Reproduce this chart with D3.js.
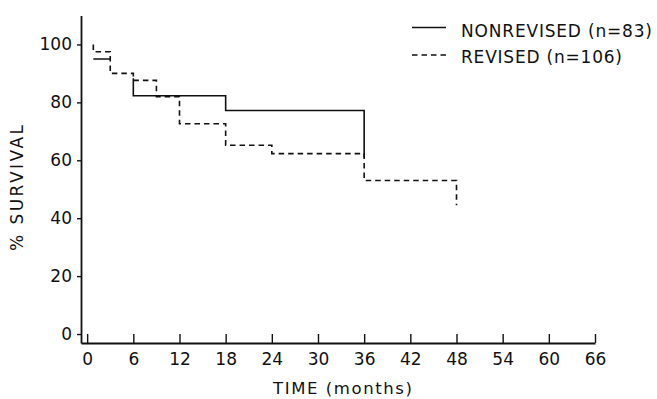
<!DOCTYPE html>
<html>
<head>
<meta charset="utf-8">
<script src="https://cdn.jsdelivr.net/npm/d3@7"></script>
<style>
  html, body { margin: 0; padding: 0; background: #fff; }
  svg { display: block; }
  text { font-family: "DejaVu Sans", sans-serif; fill: #111; }
</style>
</head>
<body>
<svg id="chart" width="657" height="399"></svg>
<script>
// ---- data ----
const xTicks = [0, 6, 12, 18, 24, 30, 36, 42, 48, 54, 60, 66];
const yTicks = [0, 20, 40, 60, 80, 100];

// Nonrevised (solid) step curve; null = gap
const nonrevTime = [0.8, 3, null, 6, 6, 18, 18, 36, 36];
const nonrevSurv = [95, 95, null, 88.3, 82.3, 82.3, 77.2, 77.2, 61];

// Revised (dashed) step curve
const revTime = [0.8, 0.8, 3, 3, 6, 6, 9, 9, 12, 12, 18, 18, 24, 24, 36, 36, 48, 48];
const revSurv = [100, 97.5, 97.5, 90, 90, 87.6, 87.6, 82.0, 82.0, 72.6, 72.6, 65.2, 65.2, 62.3, 62.3, 53.0, 53.0, 44.5];

const seriesNames = ["NONREVISED (n=83)", "REVISED (n=106)"];

// ---- drawing ----
const svg = d3.select("#chart");
const ink = "#111";

const x = d3.scaleLinear().domain([-0.8, 66]).range([81, 595]);
const y = d3.scaleLinear().domain([-3.1, 110]).range([343, 15.5]);

// x axis
const gx = svg.append("g").attr("transform", `translate(0,${y(-3.1)})`)
  .call(d3.axisBottom(x).tickValues(xTicks).tickSizeInner(-9).tickSizeOuter(0).tickPadding(10)
    .tickFormat(d3.format("d")));
gx.select(".domain").attr("stroke", ink).attr("stroke-width", 1.8);
gx.selectAll(".tick line").attr("stroke", ink).attr("stroke-width", 1.4);
gx.selectAll(".tick text").attr("font-size", 17).attr("fill", ink)
  .attr("font-family", "DejaVu Sans, sans-serif");

// y axis
const gy = svg.append("g").attr("transform", `translate(${x(-0.8)},0)`)
  .call(d3.axisLeft(y).tickValues(yTicks).tickSizeInner(4).tickSizeOuter(0).tickPadding(5)
    .tickFormat(d3.format("d")));
gy.select(".domain").attr("stroke", ink).attr("stroke-width", 1.8);
gy.selectAll(".tick line").attr("stroke", ink).attr("stroke-width", 1.4);
gy.selectAll(".tick text").attr("font-size", 17).attr("fill", ink)
  .attr("font-family", "DejaVu Sans, sans-serif");

// curves
const line = d3.line()
  .defined(d => d[0] !== null)
  .x(d => x(d[0])).y(d => y(d[1]));

const nonrev = nonrevTime.map((t, i) => [t, nonrevSurv[i]]);
const rev = revTime.map((t, i) => [t, revSurv[i]]);

svg.append("path").datum(rev).attr("d", line)
  .attr("fill", "none").attr("stroke", ink).attr("stroke-width", 1.6)
  .attr("stroke-dasharray", "5.5,4");
svg.append("path").datum(nonrev).attr("d", line)
  .attr("fill", "none").attr("stroke", ink).attr("stroke-width", 1.6);

// legend
const leg = svg.append("g");
const legRows = [
  { name: seriesNames[0], dash: null, ly: 27.5, ty: 37.3, len: 191 },
  { name: seriesNames[1], dash: "5.5,4", ly: 55, ty: 62.5, len: 161 }
];
legRows.forEach(r => {
  leg.append("line").attr("x1", 412).attr("x2", 446).attr("y1", r.ly).attr("y2", r.ly)
    .attr("stroke", ink).attr("stroke-width", 1.6)
    .attr("stroke-dasharray", r.dash);
  leg.append("text").attr("x", 461).attr("y", r.ty).attr("font-size", 17)
    .attr("textLength", r.len).attr("lengthAdjust", "spacing").text(r.name);
});

// axis titles
svg.append("text").attr("x", 273).attr("y", 394).attr("font-size", 16.5)
  .attr("textLength", 139).attr("lengthAdjust", "spacing").text("TIME (months)");
svg.append("text").attr("transform", "translate(23,251) rotate(-90)")
  .attr("font-size", 17).attr("textLength", 126).attr("lengthAdjust", "spacing")
  .text("% SURVIVAL");
</script>
</body>
</html>
